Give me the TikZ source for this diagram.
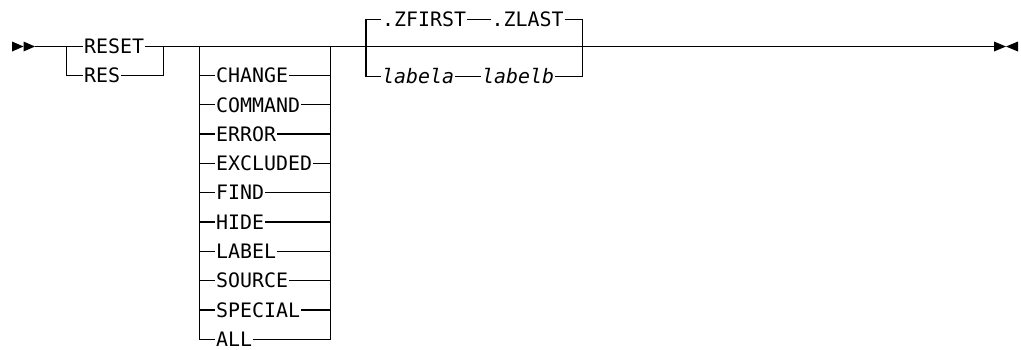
\documentclass[tikz,border=0pt]{standalone}
\usepackage{fontspec}
\newfontfamily\kwfont{DejaVu Sans Mono}
\begin{document}
\begin{tikzpicture}[x=1pt,y=-1pt, line width=1.3pt,
  kw/.style={font=\kwfont\fontsize{19.9}{24}\selectfont, inner xsep=0.5pt, inner ysep=0pt, text height=14.5pt, text depth=0pt, anchor=west},
  var/.style={kw, font=\kwfont\itshape\fontsize{19.9}{24}\selectfont},
  tri/.style={fill=black, draw=none}]
\useasboundingbox (0,0) rectangle (1021,349);
% start symbol
\fill[tri] (12,41.5) -- (23.5,46.5) -- (12,51.5) -- cycle;
\fill[tri] (23.5,41.5) -- (35,46.5) -- (23.5,51.5) -- cycle;
\coordinate (s) at (35,46.5);
% end symbol
\fill[tri] (994,41.5) -- (1006,46.5) -- (994,51.5) -- cycle;
\fill[tri] (1018,41.5) -- (1006,46.5) -- (1018,51.5) -- cycle;
\coordinate (e) at (994,46.5);
% RESET group
\coordinate (gl) at (66.7,46.5);
\coordinate (gr) at (163.3,46.5);
\node[kw] (reset) at (83,46.5) {RESET};
\node[kw] (res) at (83,75.5) {RES};
\draw (s) -- (gl) -- (reset.west);
\draw (reset.east) -- (gr);
\draw (gl) |- (res.west);
\draw (res.east) -| (gr);
% choice group
\coordinate (cl) at (199.5,46.5);
\coordinate (cr) at (330.5,46.5);
\draw (gr) -- (cl) -- (cr);
\foreach \w [count=\i from 0] in {CHANGE,COMMAND,ERROR,EXCLUDED,FIND,HIDE,LABEL,SOURCE,SPECIAL,ALL} {
  \node[kw] (c\i) at (215,{75.5+29.3*\i}) {\w};
  \coordinate (cl\i) at (199.5,{75.5+29.3*\i});
  \coordinate (cr\i) at (330.5,{75.5+29.3*\i});
  \draw (cl\i) -- (c\i.west);
  \draw (c\i.east) -- (cr\i);
}
\draw (cl) |- (c9.west);
\draw (c9.east) -| (cr);
% ZFIRST group
\coordinate (zl) at (366,46.5);
\coordinate (zr) at (582.3,46.5);
\node[kw] (zf) at (381,19.5) {.ZFIRST};
\node[kw] (zz) at (490.5,19.5) {.ZLAST};
\node[var] (la) at (381,76.5) {labela};
\node[var] (lb) at (481,76.5) {labelb};
\draw (cr) -- (zl) -- (zr) -- (e);
\draw (zf.west) -| (zl) |- (la.west);
\draw (zf.east) -- (zz.west);
\draw (la.east) -- (lb.west);
\draw (zz.east) -| (zr) |- (lb.east);
\coordinate (t1) at (588,46.5);
\coordinate (t2) at (612,46.5);
\draw[line width=1.9pt] (t1) -- (t2);
\end{tikzpicture}
\end{document}
